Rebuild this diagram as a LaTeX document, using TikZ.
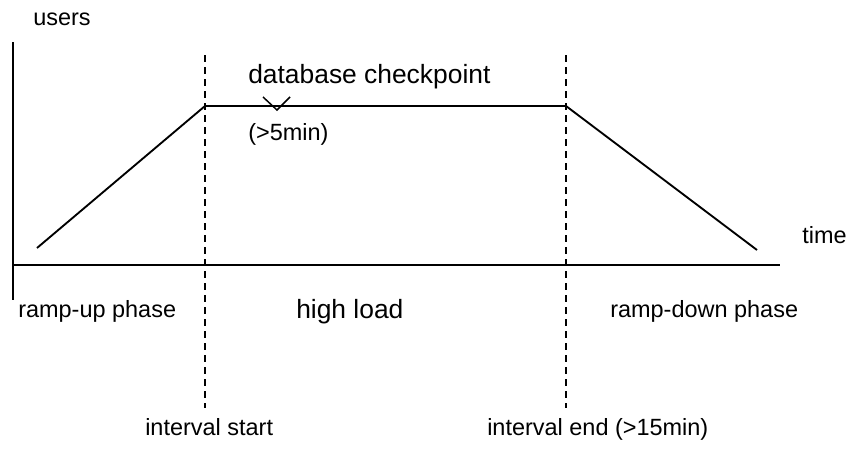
\documentclass[tikz,border=0pt]{standalone}
\usepackage{fontspec}
\setmainfont{Liberation Sans}
\usepackage{tikz}
\usetikzlibrary{positioning,calc}

\tikzset{
    axis/.style={line width=1.5pt},
    load/.style={line width=1.4pt},
    phaseline/.style={line width=1.1pt, dash pattern=on 5.5pt off 3.5pt},
    lbl/.style={inner sep=0pt, font=\fontsize{17.6pt}{20pt}\selectfont},
    biglbl/.style={inner sep=0pt, font=\fontsize{19.8pt}{22pt}\selectfont}
}

\begin{document}
\begin{tikzpicture}[x=0.75pt,y=-0.75pt]
    \useasboundingbox (0,0) rectangle (846,468);

    % Axes
    \coordinate (ytop) at (13,42);
    \coordinate (ybot) at (13,300);
    \coordinate (xleft) at (13,265);
    \coordinate (xright) at (780,265);
    \draw[axis] (ytop) -- (ybot);
    \draw[axis] (xleft) -- (xright);
    \node[lbl, anchor=base west] (users) at (33,25) {users};
    \node[lbl, anchor=base west] (time) at (802,243) {time};

    % Load curve
    \coordinate (rampstart) at (37,248);
    \coordinate (highstart) at (205,106);
    \coordinate (highend) at (566,106);
    \coordinate (rampend) at (757,250);
    \draw[load] (rampstart) -- (highstart) -- (highend) -- (rampend);

    % Interval borders
    \coordinate (starttop) at (205,55);
    \coordinate (startbot) at (205,408);
    \coordinate (endtop) at (566,55);
    \coordinate (endbot) at (566,408);
    \draw[phaseline] (starttop) -- (startbot);
    \draw[phaseline] (endtop) -- (endbot);

    % Checkpoint mark
    \coordinate (cpleft) at (263,97);
    \coordinate (cptip) at (277,110);
    \coordinate (cpright) at (290,97);
    \draw[line width=1.1pt] (cpleft) -- (cptip) -- (cpright);
    \node[biglbl, anchor=base west] (checkpoint) at (248,83) {database checkpoint};
    \node[lbl, anchor=base west] (cpmin) at (248,140) {(>5min)};

    % Phases
    \node[lbl, anchor=base west] (rampup) at (18,317) {ramp-up phase};
    \node[biglbl, anchor=base west] (highload) at (296,318) {high load};
    \node[lbl, anchor=base west] (rampdown) at (610,317) {ramp-down phase};

    % Interval labels
    \node[lbl, anchor=base west] (istart) at (145,435) {interval start};
    \node[lbl, anchor=base west] (iend) at (487,435) {interval end (>15min)};
\end{tikzpicture}
\end{document}
